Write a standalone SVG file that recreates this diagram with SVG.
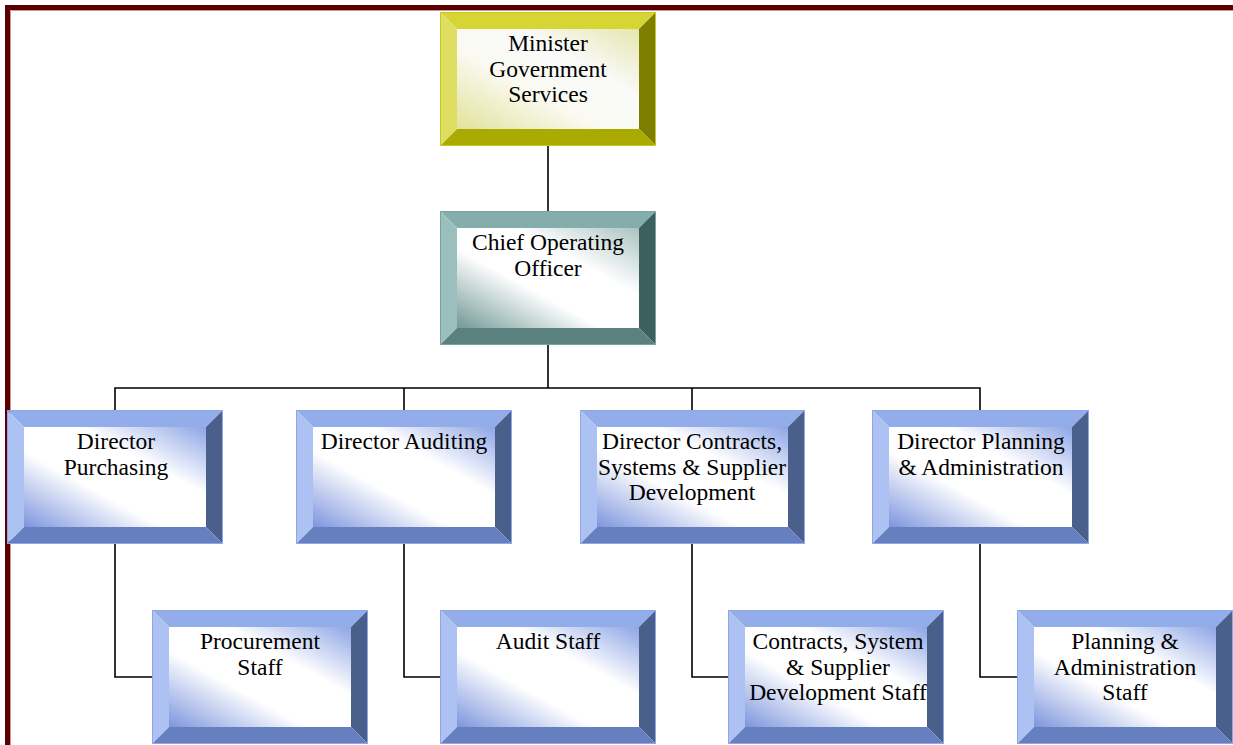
<svg xmlns="http://www.w3.org/2000/svg" width="1233" height="745" viewBox="0 0 1233 745">
<defs>
<linearGradient id="gBlue" x1="0" y1="1" x2="1" y2="0">
<stop offset="0" stop-color="#7d95dd"/><stop offset="0.38" stop-color="#ffffff"/><stop offset="0.66" stop-color="#ffffff"/><stop offset="1" stop-color="#8ea5e6"/>
</linearGradient>
<linearGradient id="gYel" x1="0" y1="1" x2="1" y2="0">
<stop offset="0" stop-color="#e2e29c"/><stop offset="0.4" stop-color="#fafaf2"/><stop offset="0.66" stop-color="#fafafa"/><stop offset="1" stop-color="#e6e6b0"/>
</linearGradient>
<linearGradient id="gTeal" x1="0" y1="1" x2="1" y2="0">
<stop offset="0" stop-color="#729996"/><stop offset="0.4" stop-color="#ffffff"/><stop offset="0.66" stop-color="#ffffff"/><stop offset="1" stop-color="#a9c3c1"/>
</linearGradient>
</defs>
<style>
.blue .t{fill:#93acea}.blue .l{fill:#adc2f2}.blue .r{fill:#4b5f8c}.blue .bt{fill:#6680bf}.blue .f{fill:url(#gBlue)}.blue .o{stroke:#8ea7e8}
.yel .t{fill:#d5d534}.yel .l{fill:#dede62}.yel .r{fill:#7e7e00}.yel .bt{fill:#aaaa00}.yel .f{fill:url(#gYel)}.yel .o{stroke:#c8c820}
.teal .t{fill:#84aeab}.teal .l{fill:#9bbfbc}.teal .r{fill:#3e605d}.teal .bt{fill:#5b817e}.teal .f{fill:url(#gTeal)}.teal .o{stroke:#7aa3a0}
.o{fill:none;stroke-width:1}
text{font-family:"Liberation Serif","Times New Roman",serif;font-size:23.5px;fill:#000;text-anchor:middle}
.c{fill:none;stroke:#000;stroke-width:1.6}
</style>
<rect width="1233" height="745" fill="#ffffff"/>
<path d="M7.5,745 V7.5 H1233" fill="none" stroke="#5a0000" stroke-width="5"/>
<path d="M10.5,745 V10.5 H1233" fill="none" stroke="#c89a9a" stroke-width="1"/>

<g id="connectors">
<path class="c" d="M548,146 V211"/>
<path class="c" d="M548,345 V388" stroke-width="2.2"/>
<path class="c" d="M115,410 V388 H980 V410 M404,388 V410 M692,388 V410"/>
<path class="c" d="M115,544 V677 H152"/>
<path class="c" d="M404,544 V677 H440"/>
<path class="c" d="M692,544 V677 H728"/>
<path class="c" d="M980,544 V677 H1017"/>
</g>

<g id="minister" class="yel" transform="translate(440,12)">
<polygon class="t" points="0,0 216,0 199,17 17,17"/><polygon class="l" points="0,0 17,17 17,117 0,134"/><polygon class="r" points="216,0 216,134 199,117 199,17"/><polygon class="bt" points="0,134 17,117 199,117 216,134"/><rect class="f" x="17" y="17" width="182" height="100"/><rect class="o" x="0.5" y="0.5" width="215" height="133"/>
<text x="108" y="39">Minister</text><text x="108" y="64.5">Government</text><text x="108" y="90">Services</text>
</g>

<g id="coo" class="teal" transform="translate(440,211)">
<polygon class="t" points="0,0 216,0 199,17 17,17"/><polygon class="l" points="0,0 17,17 17,117 0,134"/><polygon class="r" points="216,0 216,134 199,117 199,17"/><polygon class="bt" points="0,134 17,117 199,117 216,134"/><rect class="f" x="17" y="17" width="182" height="100"/><rect class="o" x="0.5" y="0.5" width="215" height="133"/>
<text x="108" y="39">Chief Operating</text><text x="108" y="64.5">Officer</text>
</g>

<g id="dir-purchasing" class="blue" transform="translate(7,410)">
<polygon class="t" points="0,0 216,0 199,17 17,17"/><polygon class="l" points="0,0 17,17 17,117 0,134"/><polygon class="r" points="216,0 216,134 199,117 199,17"/><polygon class="bt" points="0,134 17,117 199,117 216,134"/><rect class="f" x="17" y="17" width="182" height="100"/><rect class="o" x="0.5" y="0.5" width="215" height="133"/>
<text x="109" y="39">Director</text><text x="109" y="64.5">Purchasing</text>
</g>

<g id="dir-auditing" class="blue" transform="translate(296,410)">
<polygon class="t" points="0,0 216,0 199,17 17,17"/><polygon class="l" points="0,0 17,17 17,117 0,134"/><polygon class="r" points="216,0 216,134 199,117 199,17"/><polygon class="bt" points="0,134 17,117 199,117 216,134"/><rect class="f" x="17" y="17" width="182" height="100"/><rect class="o" x="0.5" y="0.5" width="215" height="133"/>
<text x="108" y="39">Director Auditing</text>
</g>

<g id="dir-contracts" class="blue" transform="translate(580,410)">
<polygon class="t" points="0,0 225,0 208,17 17,17"/><polygon class="l" points="0,0 17,17 17,117 0,134"/><polygon class="r" points="225,0 225,134 208,117 208,17"/><polygon class="bt" points="0,134 17,117 208,117 225,134"/><rect class="f" x="17" y="17" width="191" height="100"/><rect class="o" x="0.5" y="0.5" width="224" height="133"/>
<text x="112" y="39">Director Contracts,</text><text x="112" y="64.5">Systems &amp; Supplier</text><text x="112" y="90">Development</text>
</g>

<g id="dir-planning" class="blue" transform="translate(872,410)">
<polygon class="t" points="0,0 217,0 200,17 17,17"/><polygon class="l" points="0,0 17,17 17,117 0,134"/><polygon class="r" points="217,0 217,134 200,117 200,17"/><polygon class="bt" points="0,134 17,117 200,117 217,134"/><rect class="f" x="17" y="17" width="183" height="100"/><rect class="o" x="0.5" y="0.5" width="216" height="133"/>
<text x="109" y="39">Director Planning</text><text x="109" y="64.5">&amp; Administration</text>
</g>

<g id="procurement-staff" class="blue" transform="translate(152,610)">
<polygon class="t" points="0,0 216,0 199,17 17,17"/><polygon class="l" points="0,0 17,17 17,117 0,134"/><polygon class="r" points="216,0 216,134 199,117 199,17"/><polygon class="bt" points="0,134 17,117 199,117 216,134"/><rect class="f" x="17" y="17" width="182" height="100"/><rect class="o" x="0.5" y="0.5" width="215" height="133"/>
<text x="108" y="39">Procurement</text><text x="108" y="64.5">Staff</text>
</g>

<g id="audit-staff" class="blue" transform="translate(440,610)">
<polygon class="t" points="0,0 216,0 199,17 17,17"/><polygon class="l" points="0,0 17,17 17,117 0,134"/><polygon class="r" points="216,0 216,134 199,117 199,17"/><polygon class="bt" points="0,134 17,117 199,117 216,134"/><rect class="f" x="17" y="17" width="182" height="100"/><rect class="o" x="0.5" y="0.5" width="215" height="133"/>
<text x="108" y="39">Audit Staff</text>
</g>

<g id="contracts-staff" class="blue" transform="translate(728,610)">
<polygon class="t" points="0,0 216,0 199,17 17,17"/><polygon class="l" points="0,0 17,17 17,117 0,134"/><polygon class="r" points="216,0 216,134 199,117 199,17"/><polygon class="bt" points="0,134 17,117 199,117 216,134"/><rect class="f" x="17" y="17" width="182" height="100"/><rect class="o" x="0.5" y="0.5" width="215" height="133"/>
<text x="110" y="39">Contracts, System</text><text x="110" y="64.5">&amp; Supplier</text><text x="110" y="90">Development Staff</text>
</g>

<g id="planning-staff" class="blue" transform="translate(1017,610)">
<polygon class="t" points="0,0 216,0 199,17 17,17"/><polygon class="l" points="0,0 17,17 17,117 0,134"/><polygon class="r" points="216,0 216,134 199,117 199,17"/><polygon class="bt" points="0,134 17,117 199,117 216,134"/><rect class="f" x="17" y="17" width="182" height="100"/><rect class="o" x="0.5" y="0.5" width="215" height="133"/>
<text x="108" y="39">Planning &amp;</text><text x="108" y="64.5">Administration</text><text x="108" y="90">Staff</text>
</g>
</svg>
